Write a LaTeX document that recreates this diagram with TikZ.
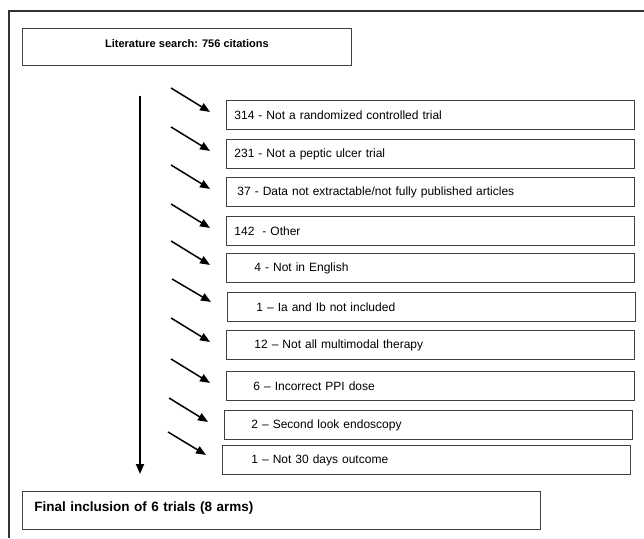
\documentclass[tikz,border=0pt]{standalone}
\usepackage{fontspec}
\setmainfont{Liberation Sans}
\usetikzlibrary{arrows.meta}

\tikzset{
  exbox/.style={draw=black!75, line width=0.9pt, anchor=north west, minimum height=29pt,
    text width=392pt, inner xsep=8pt, align=left, font=\fontsize{12}{14}\selectfont},
  exarrow/.style={line width=1.5pt, -{Triangle[length=10pt,width=8pt]}},
}

\begin{document}
\begin{tikzpicture}[x=1pt, y=-1pt]
\useasboundingbox (0,0) rectangle (644,538);

% Frame
\draw[black!80, line width=1.2pt] (9,538) -- (9,11) -- (644,11);

% Literature search
\node[draw=black!75, line width=0.9pt, anchor=north west, minimum width=329pt, minimum height=37pt,
  text depth=7pt, font=\bfseries\fontsize{11}{14}\selectfont] (lit) at (22,28) {Literature search: 756 citations};

% Excluded citations
\node[exbox] (b1) at (226,100) {314 - Not a randomized controlled trial};
\node[exbox] (b2) at (226,139) {231 - Not a peptic ulcer trial};
\node[exbox] (b3) at (226,177) {\hspace*{3pt}37 - Data not extractable/not fully published articles};
\node[exbox] (b4) at (226,216) {142 \ - Other};
\node[exbox] (b5) at (226,253) {\hspace*{20pt}4 - Not in English};
\node[exbox] (b6) at (227,292) {\hspace*{21pt}1 -- Ia and Ib not included};
\node[exbox] (b7) at (226,330) {\hspace*{20pt}12 -- Not all multimodal therapy};
\node[exbox] (b8) at (226,371) {\hspace*{19pt}6 -- Incorrect PPI dose};
\node[exbox] (b9) at (224,410) {\hspace*{19pt}2 -- Second look endoscopy};
\node[exbox] (b10) at (222,445) {\hspace*{21pt}1 -- Not 30 days outcome};

% Final inclusion
\node[draw=black!75, line width=0.9pt, anchor=north west, minimum height=38pt, text width=494pt,
  inner xsep=12pt, align=left, text depth=8pt, font=\bfseries\fontsize{13.5}{16}\selectfont] (final) at (22,491)
  {Final inclusion of 6 trials (8 arms)};

% Main flow
\coordinate (vx) at (140,0);
\draw[exarrow, line width=1.8pt, shorten <=30pt, shorten >=17pt] (lit.south -| vx) -- (final.north -| vx);

% Exclusion arrows
\draw[exarrow] ([shift={(-55,-27)}]b1.west) -- ([shift={(-16,-3)}]b1.west);
\draw[exarrow] ([shift={(-55,-27)}]b2.west) -- ([shift={(-16,-3)}]b2.west);
\draw[exarrow] ([shift={(-55,-27)}]b3.west) -- ([shift={(-16,-3)}]b3.west);
\draw[exarrow] ([shift={(-55,-27)}]b4.west) -- ([shift={(-16,-3)}]b4.west);
\draw[exarrow] ([shift={(-55,-27)}]b5.west) -- ([shift={(-16,-3)}]b5.west);
\draw[exarrow] ([shift={(-55,-28)}]b6.west) -- ([shift={(-16,-5)}]b6.west);
\draw[exarrow] ([shift={(-55,-27)}]b7.west) -- ([shift={(-16,-3)}]b7.west);
\draw[exarrow] ([shift={(-55,-27)}]b8.west) -- ([shift={(-16,-3)}]b8.west);
\draw[exarrow] ([shift={(-55,-27)}]b9.west) -- ([shift={(-16,-3)}]b9.west);
\draw[exarrow] ([shift={(-54,-28)}]b10.west) -- ([shift={(-16,-5)}]b10.west);

\end{tikzpicture}
\end{document}
